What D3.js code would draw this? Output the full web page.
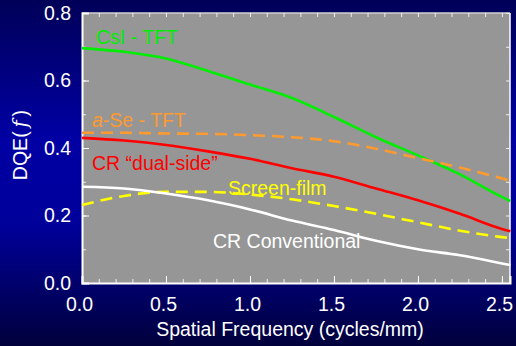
<!DOCTYPE html>
<html>
<head>
<meta charset="UTF-8">
<script src="https://d3js.org/d3.v7.min.js"></script>
<style>
  body { margin: 0; background: #000050; }
  svg { display: block; font-family: "Liberation Sans", Arial, sans-serif; }
</style>
</head>
<body>
<svg width="516" height="346"></svg>
<script>
// spatial frequency samples (cycles/mm)
const freq = [0, 0.25, 0.5, 0.75, 1.0, 1.25, 1.5, 1.75, 2.0, 2.25, 2.5, 2.55];
const csiTft = [0.696, 0.685, 0.665, 0.628, 0.588, 0.548, 0.492, 0.432, 0.378, 0.322, 0.255, 0.243];
const aSeTft = [0.445, 0.445, 0.443, 0.442, 0.438, 0.432, 0.420, 0.398, 0.370, 0.342, 0.310, 0.303];
const crDual = [0.430, 0.422, 0.409, 0.390, 0.368, 0.340, 0.315, 0.280, 0.245, 0.205, 0.160, 0.153];
const screenFilm = [0.231, 0.258, 0.270, 0.270, 0.262, 0.248, 0.228, 0.205, 0.180, 0.155, 0.136, 0.133];
const crConv = [0.285, 0.280, 0.265, 0.245, 0.218, 0.185, 0.157, 0.125, 0.100, 0.082, 0.058, 0.053];
const xTicks = [0, 0.5, 1.0, 1.5, 2.0, 2.5];
const yTicks = [0, 0.2, 0.4, 0.6, 0.8];

const series = [
  {name: "CsI - TFT", values: csiTft, color: "#00ee00", dash: null},
  {name: "a-Se - TFT", values: aSeTft, color: "#ff9a2e", dash: "12,7"},
  {name: "CR dual", values: crDual, color: "#ff0000", dash: null},
  {name: "Screen-film", values: screenFilm, color: "#ffff00", dash: "12,7"},
  {name: "CR Conventional", values: crConv, color: "#ffffff", dash: null}
];

const svg = d3.select("svg");
const W = 516, H = 346;
const margin = {top: 13, right: 6, bottom: 63, left: 82};
const width = W - margin.left - margin.right;
const height = H - margin.top - margin.bottom;
const fs = 19.5;

// background gradient
const defs = svg.append("defs");
const grad = defs.append("linearGradient").attr("id", "bg")
  .attr("x1", 0).attr("y1", 0).attr("x2", 0).attr("y2", 1);
grad.append("stop").attr("offset", "0%").attr("stop-color", "#000058");
grad.append("stop").attr("offset", "40%").attr("stop-color", "#0000a4");
grad.append("stop").attr("offset", "65%").attr("stop-color", "#00009a");
grad.append("stop").attr("offset", "100%").attr("stop-color", "#00003c");
svg.append("rect").attr("width", W).attr("height", H).attr("fill", "url(#bg)");

const x = d3.scaleLinear().domain([0, 2.548]).range([0, width]);
const y = d3.scaleLinear().domain([0, 0.8]).range([height, 0]);

const g = svg.append("g").attr("transform", `translate(${margin.left},${margin.top})`);

g.append("rect").attr("width", width).attr("height", height).attr("fill", "#969696");

// frame
g.append("line").attr("x1", 0).attr("x2", width).attr("y1", 0).attr("y2", 0)
  .attr("stroke", "#d0d0d0").attr("stroke-width", 1.5);
g.append("line").attr("x1", width).attr("x2", width).attr("y1", 0).attr("y2", height)
  .attr("stroke", "#ffffff").attr("stroke-width", 1.5);

// minor ticks inside on all four sides
const minorX = d3.range(0, 2.55, 0.1);
const minorY = d3.range(0, 0.81, 0.1);
g.append("g").attr("transform", `translate(0,${height})`)
  .call(d3.axisBottom(x).tickValues(minorX).tickSize(-4).tickFormat(""))
  .call(a => a.selectAll("line").attr("stroke", "#eeeeee"))
  .call(a => a.select(".domain").remove());
g.append("g")
  .call(d3.axisTop(x).tickValues(minorX).tickSize(-4).tickFormat(""))
  .call(a => a.selectAll("line").attr("stroke", "#eeeeee"))
  .call(a => a.select(".domain").remove());
g.append("g")
  .call(d3.axisLeft(y).tickValues(minorY).tickSize(-4).tickFormat(""))
  .call(a => a.selectAll("line").attr("stroke", "#eeeeee"))
  .call(a => a.select(".domain").remove());
g.append("g").attr("transform", `translate(${width},0)`)
  .call(d3.axisRight(y).tickValues(minorY).tickSize(-4).tickFormat(""))
  .call(a => a.selectAll("line").attr("stroke", "#eeeeee"))
  .call(a => a.select(".domain").remove());

// major axes
const xAxis = g.append("g").attr("transform", `translate(0,${height})`)
  .call(d3.axisBottom(x).tickValues(xTicks).tickSize(-7).tickPadding(14)
    .tickFormat(d3.format(".1f")));
xAxis.select(".domain").attr("stroke", "#ffffff").attr("stroke-width", 2);
xAxis.selectAll("line").attr("stroke", "#ffffff");
xAxis.selectAll("text").attr("fill", "#ffffff").attr("font-size", fs)
  .attr("font-family", "Liberation Sans, Arial, sans-serif").attr("dx", -3);

const yAxis = g.append("g")
  .call(d3.axisLeft(y).tickValues(yTicks).tickSize(-7).tickPadding(11)
    .tickFormat(d3.format(".1f")));
yAxis.select(".domain").attr("stroke", "#ffffff").attr("stroke-width", 2);
yAxis.selectAll("line").attr("stroke", "#ffffff");
yAxis.selectAll("text").attr("fill", "#ffffff").attr("font-size", fs)
  .attr("font-family", "Liberation Sans, Arial, sans-serif");

// curves
const line = d3.line().curve(d3.curveMonotoneX)
  .x((d, i) => x(freq[i])).y(d => y(d));
g.selectAll(".curve").data(series).enter().append("path")
  .attr("class", "curve")
  .attr("d", d => line(d.values))
  .attr("fill", "none")
  .attr("stroke", d => d.color)
  .attr("stroke-width", 2.6)
  .attr("stroke-dasharray", d => d.dash);

// curve labels
const lab = (tx, ty, color) => g.append("text").attr("x", tx).attr("y", ty)
  .attr("fill", color).attr("font-size", fs);
lab(14, 31, "#00ee00").text("CsI - TFT");
const ase = lab(10, 114, "#ff9a2e");
ase.append("tspan").attr("font-style", "italic").text("a");
ase.append("tspan").text("-Se - TFT");
lab(10, 157, "#ff0000").text("CR \u201Cdual-side\u201D");
lab(146, 182, "#ffff00").text("Screen-film");
lab(131, 235, "#ffffff").text("CR Conventional");

// axis titles
svg.append("text").attr("x", 290).attr("y", 336).attr("text-anchor", "middle")
  .attr("fill", "#ffffff").attr("font-size", fs)
  .text("Spatial Frequency (cycles/mm)");
const yt = svg.append("text").attr("transform", "translate(27,145) rotate(-90)")
  .attr("text-anchor", "middle").attr("fill", "#ffffff").attr("font-size", fs);
yt.append("tspan").text("DQE(");
yt.append("tspan").attr("font-family", "DejaVu Serif, serif").attr("font-style", "italic")
  .text("\u2009f\u2009");
yt.append("tspan").text(")");
</script>
</body>
</html>
